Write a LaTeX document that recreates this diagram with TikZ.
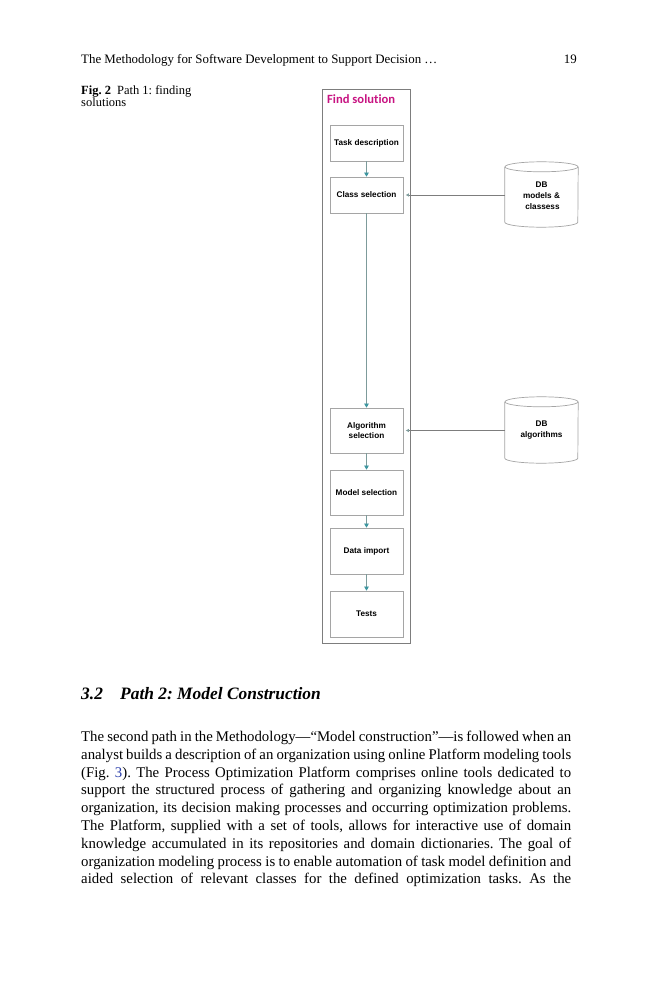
\documentclass[tikz,border=0pt]{standalone}
\usepackage{fontspec}
\setmainfont{Liberation Serif}
\newfontfamily\arialf{Liberation Sans}
\newfontfamily\carlitof[Ligatures=NoCommon]{Carlito}
\usetikzlibrary{arrows.meta,calc}
\definecolor{magentatitle}{RGB}{200,20,130}
\definecolor{flowline}{RGB}{125,155,155}
\definecolor{flowhead}{RGB}{60,150,160}
\definecolor{boxgray}{RGB}{165,165,165}
\definecolor{framegray}{RGB}{125,125,125}
\definecolor{linkblue}{RGB}{40,60,170}
\frenchspacing
\begin{document}
\begin{tikzpicture}[x=1pt,y=-1pt,
  stepbox/.style={draw=boxgray,line width=0.7pt,minimum width=73pt,inner sep=0pt,align=center,
     font=\arialf\bfseries\fontsize{8.2}{9.8}\selectfont},
  dbnode/.style={minimum width=73pt,inner sep=0pt,align=center,
     font=\arialf\bfseries\fontsize{8.2}{10.8}\selectfont},
  cyl/.style={draw=boxgray,line width=0.7pt},
  flow/.style={draw=flowline,line width=0.6pt,-{Triangle[length=4pt,width=4.5pt,color=flowhead,fill=flowhead]}},
  dbarrow/.style={draw=framegray,line width=0.6pt,shorten >=2.5pt,-{Triangle[length=3pt,width=3pt,color=flowline,fill=flowline]}},
  bodyline/.style={anchor=base west,inner sep=0pt,font=\fontsize{14.8}{17.8}\selectfont}
]
\useasboundingbox[fill=white] (0,0) rectangle (659,1000);

% running head
\node[anchor=base west,inner sep=0pt,font=\fontsize{12.9}{15}\selectfont] (head) at (81,64)
  {The Methodology for Software Development to Support Decision \ldots};
\node[anchor=base east,inner sep=0pt,font=\fontsize{12.9}{15}\selectfont] (pnum) at (577,64) {19};

% caption
\node[anchor=base west,inner sep=0pt,font=\fontsize{12.5}{13}\selectfont] (cap1) at (81,95)
  {\textbf{Fig. 2}\hspace{6pt}Path 1: finding};
\node[anchor=base west,inner sep=0pt,font=\fontsize{12.5}{13}\selectfont] (cap2) at (81,106.5) {solutions};

% figure frame
\node[draw=framegray,line width=0.8pt,minimum width=88.5pt,minimum height=554.5pt,inner sep=0pt] (frame) at (366.25,366.25) {};
\node[anchor=west,inner sep=0pt,text=magentatitle,font=\carlitof\bfseries\fontsize{12.6}{14}\selectfont] (title) at (327,99.5) {Find solution};

% steps
\node[stepbox,minimum height=36pt] (task) at (366.5,143) {Task description};
\node[stepbox,minimum height=36pt] (class) at (366.5,195) {Class selection};
\node[stepbox,minimum height=45pt] (algo) at (366.5,430.5) {Algorithm\\selection};
\node[stepbox,minimum height=45pt] (model) at (366.5,492.5) {Model selection};
\node[stepbox,minimum height=46pt] (data) at (366.5,551) {Data import};
\node[stepbox,minimum height=46pt] (tests) at (366.5,614) {Tests};

% databases
\node[dbnode,minimum height=65pt] (db1) at (541.5,194.5) {};
\draw[cyl] ($(db1.north west)+(0,5)$) -- ($(db1.south west)+(0,-5)$)
   arc[start angle=180,end angle=360,x radius=36.5pt,y radius=5pt] -- ($(db1.north east)+(0,5)$);
\draw[cyl] ($(db1.north)+(0,5)$) ellipse[x radius=36.5pt,y radius=5pt];
\node[dbnode] (db1t) at (541.5,195.5) {DB\\models \&\\\hspace{2pt}classess};

\node[dbnode,minimum height=66pt] (db2) at (541.5,430) {};
\draw[cyl] ($(db2.north west)+(0,5)$) -- ($(db2.south west)+(0,-5)$)
   arc[start angle=180,end angle=360,x radius=36.5pt,y radius=5pt] -- ($(db2.north east)+(0,5)$);
\draw[cyl] ($(db2.north)+(0,5)$) ellipse[x radius=36.5pt,y radius=5pt];
\node[dbnode] (db2t) at (541.5,430) {DB\\algorithms};

% connectors
\draw[flow] (task) -- (class);
\draw[flow] (class) -- (algo);
\draw[flow] (algo) -- (model);
\draw[flow] (model) -- (data);
\draw[flow] (data) -- (tests);
\draw[dbarrow] (db1.west |- class.east) -- (class.east);
\draw[dbarrow] (db2.west |- algo.east) -- (algo.east);

% section heading
\node[anchor=base west,inner sep=0pt,font=\bfseries\itshape\fontsize{17.4}{20}\selectfont] (secnum) at (81,699) {3.2};
\node[anchor=base west,inner sep=0pt,font=\bfseries\itshape\fontsize{17.4}{20}\selectfont] (sectitle) at (120,699) {Path 2: Model Construction};

% body text
\node[bodyline] (l1) at (81,741.5) {\makebox[490pt][s]{The second path in the Methodology---``Model construction''---is followed when an}};
\node[bodyline] (l2) at (81,759.3) {\makebox[490pt][s]{analyst builds a description of an organization using online Platform modeling tools}};
\node[bodyline] (l3) at (81,777.1) {\makebox[490pt][s]{(Fig. \textcolor{linkblue}{3}). The Process Optimization Platform comprises online tools dedicated to}};
\node[bodyline] (l4) at (81,794.9) {\makebox[490pt][s]{support the structured process of gathering and organizing knowledge about an}};
\node[bodyline] (l5) at (81,812.7) {\makebox[490pt][s]{organization, its decision making processes and occurring optimization problems.}};
\node[bodyline] (l6) at (81,830.5) {\makebox[490pt][s]{The Platform, supplied with a set of tools, allows for interactive use of domain}};
\node[bodyline] (l7) at (81,848.3) {\makebox[490pt][s]{knowledge accumulated in its repositories and domain dictionaries. The goal of}};
\node[bodyline] (l8) at (81,866.1) {\makebox[490pt][s]{organization modeling process is to enable automation of task model definition and}};
\node[bodyline] (l9) at (81,883.9) {\makebox[490pt][s]{aided selection of relevant classes for the defined optimization tasks. As the}};
\end{tikzpicture}
\end{document}
